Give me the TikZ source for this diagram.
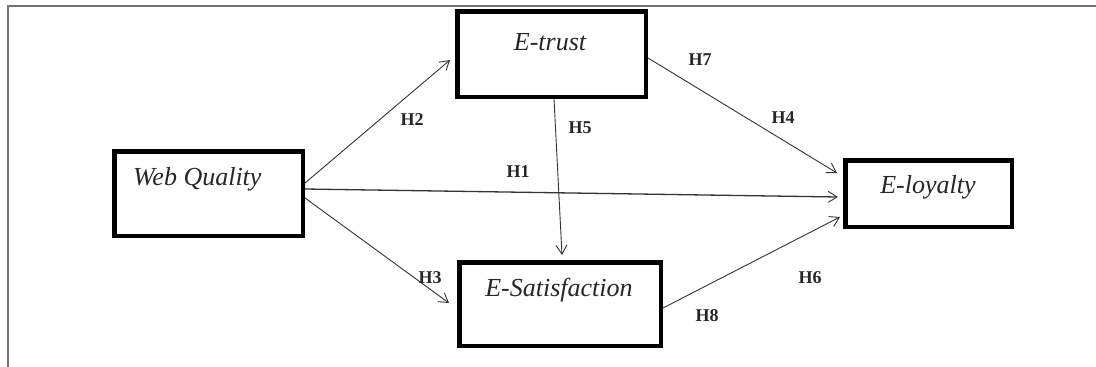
\documentclass[tikz,border=0pt]{standalone}
\usepackage{fontspec}
\setmainfont{Liberation Serif}
\usetikzlibrary{arrows.meta}
\begin{document}
\begin{tikzpicture}[x=1pt,y=-1pt,
  construct/.style={draw=black,line width=4.5pt,rectangle,inner sep=0pt},
  ctext/.style={inner sep=0pt,font=\itshape\fontsize{26}{30}\selectfont,text=black!85},
  hyp/.style={inner sep=0pt,font=\bfseries\fontsize{18}{22}\selectfont,text=black!85},
  path/.style={draw=black!80,line width=0.9pt,-{Straight Barb[length=9pt,width=11pt,line width=0.9pt]}},
  frameline/.style={draw=black!55,line width=1.6pt}]
\useasboundingbox (0,0) rectangle (1096,367);
% outer frame (top and left edges)
\coordinate (fa) at (1096,6);
\coordinate (fb) at (8,6);
\coordinate (fc) at (8,367);
\draw[frameline] (fa) -- (fb) -- (fc);
% constructs
\node[construct,minimum width=188.5pt,minimum height=84.5pt] (wq) at (208.5,193.5) {};
\node[construct,minimum width=188.5pt,minimum height=85.5pt] (et) at (551.5,54) {};
\node[construct,minimum width=201.5pt,minimum height=83.5pt] (es) at (560,304) {};
\node[construct,minimum width=166.5pt,minimum height=66.5pt] (el) at (928.5,193.5) {};
\node[ctext,anchor=base west] (wqt) at (133,185) {Web Quality};
\node[ctext,anchor=base] (ett) at (550,50) {E-trust};
\node[ctext,anchor=base] (est) at (559,296) {E-Satisfaction};
\node[ctext,anchor=base] (elt) at (928,193) {E-loyalty};
% hypothesised paths
\draw[path] ([yshift=10.5pt]wq.east) -- ([xshift=-5pt,yshift=-6pt]et.west);
\draw[path,line width=1.3pt] ([yshift=4.5pt]wq.east) -- ([xshift=-5pt,yshift=-3.5pt]el.west);
\draw[path] ([yshift=-4.5pt]wq.east) -- ([xshift=-8pt,yshift=1pt]es.west);
\draw[path] ([xshift=2.5pt]et.south) -- ([xshift=2pt,yshift=5pt]es.north);
\draw[path] ([yshift=-4pt]et.east) -- ([xshift=-6pt,yshift=20.5pt]el.west);
\draw[path] ([yshift=-4pt]es.east) -- ([xshift=-3pt,yshift=-23.5pt]el.west);
% hypothesis labels
\node[hyp] (h1) at (518,172) {H1};
\node[hyp] (h2) at (412,120) {H2};
\node[hyp] (h3) at (430,278) {H3};
\node[hyp] (h4) at (783,118) {H4};
\node[hyp] (h5) at (580,128) {H5};
\node[hyp] (h6) at (810,278) {H6};
\node[hyp] (h7) at (700,60) {H7};
\node[hyp] (h8) at (707,316) {H8};
\end{tikzpicture}
\end{document}
